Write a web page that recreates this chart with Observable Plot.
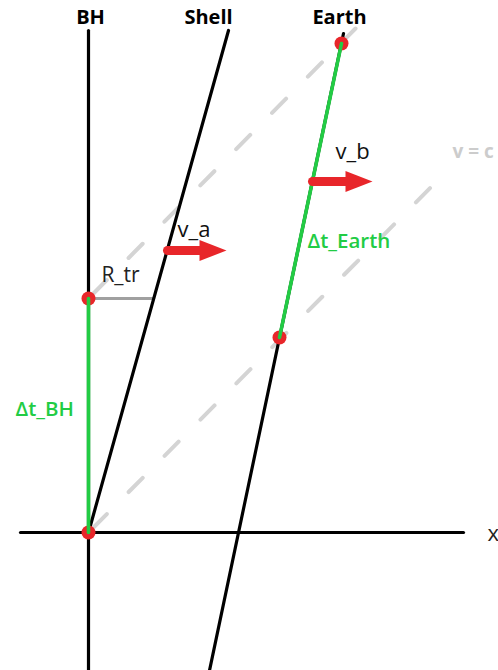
<!DOCTYPE html>
<html>
<head>
<meta charset="utf-8">
<script src="https://cdn.jsdelivr.net/npm/d3@7"></script>
<script src="https://cdn.jsdelivr.net/npm/@observablehq/plot@0.6"></script>
<style>
  html, body { margin: 0; padding: 0; background: #fff; overflow: hidden; }
  #chart svg { display: block; overflow: hidden; }
</style>
</head>
<body>
<div id="chart"></div>
<script>
// Spacetime diagram: x = distance, t = time (origin at the BH event)
const worldlineNames = ["BH", "Shell", "Earth"];
const worldlineX = [[0, 0], [0, 140], [121, 255]];
const worldlineT = [[-138, 502], [0, 502], [-138, 499]];

// light rays (v = c), dashed
const rayX = [[0, 267], [0, 357]];
const rayT = [[234, 504], [0, 360]];

// elapsed proper time segments (green)
const intervalNames = ["Δt_BH", "Δt_Earth"];
const intervalX = [[0, 0], [191, 253]];
const intervalT = [[0, 234], [195, 489]];

// events (red dots)
const eventX = [0, 0, 191, 253];
const eventT = [0, 234, 195, 489];

// R_tr distance at t = 234
const rtrX = [0, 65];
const rtrT = 234;

// velocity arrows
const arrowNames = ["v_a", "v_b"];
const arrowT = [282, 351];
const arrowX1 = [79, 224];
const arrowX2 = [138, 284];

// x axis
const axisX = [-68, 375];

// labels
const labelText = ["BH", "Shell", "Earth", "R_tr", "v_a", "v_b", "Δt_Earth", "Δt_BH", "x", "v = c"];
const labelX = [2, 120, 251, 32, 89, 247, 219, -73, 399, 364];
const labelT = [515, 515, 515, 257, 303, 381, 291, 123, -1, 381];

const green = "#22cc44";
const red = "#e8262a";
const rayGray = "#d4d4d4";

const lines = (names, xs, ts) => names.flatMap((n, i) => xs[i].map((x, j) => ({name: n, x, t: ts[i][j]})));
const worldlines = lines(worldlineNames, worldlineX, worldlineT);
const rays = lines(["r1", "r2"], rayX, rayT);
const intervals = lines(intervalNames, intervalX, intervalT);
const events = eventX.map((x, i) => ({x, t: eventT[i]}));
const rtr = rtrX.map(x => ({x, t: rtrT}));
const axisLine = axisX.map(x => ({x, t: 0}));

const headLen = 27, headHalf = 10.5;
const shafts = arrowNames.flatMap((n, i) => [
  {name: n, x: arrowX1[i], t: arrowT[i]},
  {name: n, x: arrowX2[i] - headLen + 1, t: arrowT[i]}
]);
const heads = arrowNames.flatMap((n, i) => [
  {name: n, x: arrowX2[i] - headLen, t: arrowT[i] + headHalf},
  {name: n, x: arrowX2[i], t: arrowT[i]},
  {name: n, x: arrowX2[i] - headLen, t: arrowT[i] - headHalf}
]);

const labels = labelText.map((s, i) => ({s, x: labelX[i], t: labelT[i]}));
const labelStyle = {
  "BH": {fill: "#000", fontWeight: 700, anchor: "middle", size: 20},
  "Shell": {fill: "#000", fontWeight: 700, anchor: "middle", size: 20},
  "Earth": {fill: "#000", fontWeight: 700, anchor: "middle", size: 20},
  "R_tr": {fill: "#222", fontWeight: 400, anchor: "middle", size: 21},
  "v_a": {fill: "#111", fontWeight: 400, anchor: "start", size: 22},
  "v_b": {fill: "#111", fontWeight: 400, anchor: "start", size: 22},
  "Δt_Earth": {fill: green, fontWeight: 600, anchor: "start", size: 20.5},
  "Δt_BH": {fill: green, fontWeight: 600, anchor: "start", size: 20.5},
  "x": {fill: "#222", fontWeight: 400, anchor: "start", size: 22},
  "v = c": {fill: "#cccccc", fontWeight: 700, anchor: "start", size: 19}
};

const textMarks = labels.map(d => Plot.text([d], {
  x: "x", y: "t", text: "s",
  fill: labelStyle[d.s].fill,
  fontWeight: labelStyle[d.s].fontWeight,
  textAnchor: labelStyle[d.s].anchor,
  fontSize: labelStyle[d.s].size
}));

const chart = Plot.plot({
  width: 498,
  height: 670,
  margin: 0,
  style: {fontFamily: "'Open Sans', sans-serif", background: "#fff"},
  x: {domain: [-88, 410], axis: null},
  y: {domain: [-138, 532], axis: null},
  marks: [
    Plot.line(rays, {x: "x", y: "t", z: "name", stroke: rayGray, strokeWidth: 4, strokeDasharray: "20,31", strokeDashoffset: -6}),
    Plot.line(rtr, {x: "x", y: "t", stroke: "#a0a0a0", strokeWidth: 3}),
    Plot.line(axisLine, {x: "x", y: "t", stroke: "#000", strokeWidth: 3.2, strokeLinecap: "round"}),
    Plot.line(worldlines, {x: "x", y: "t", z: "name", stroke: "#000", strokeWidth: 3.2}),
    Plot.dot(events, {x: "x", y: "t", r: 7, fill: red}),
    Plot.line(intervals, {x: "x", y: "t", z: "name", stroke: green, strokeWidth: 3.6}),
    Plot.line(shafts, {x: "x", y: "t", z: "name", stroke: red, strokeWidth: 9}),
    Plot.line(heads, {x: "x", y: "t", z: "name", fill: red, stroke: "none", curve: "linear-closed"}),
    ...textMarks
  ]
});
document.getElementById("chart").append(chart);
</script>
</body>
</html>
